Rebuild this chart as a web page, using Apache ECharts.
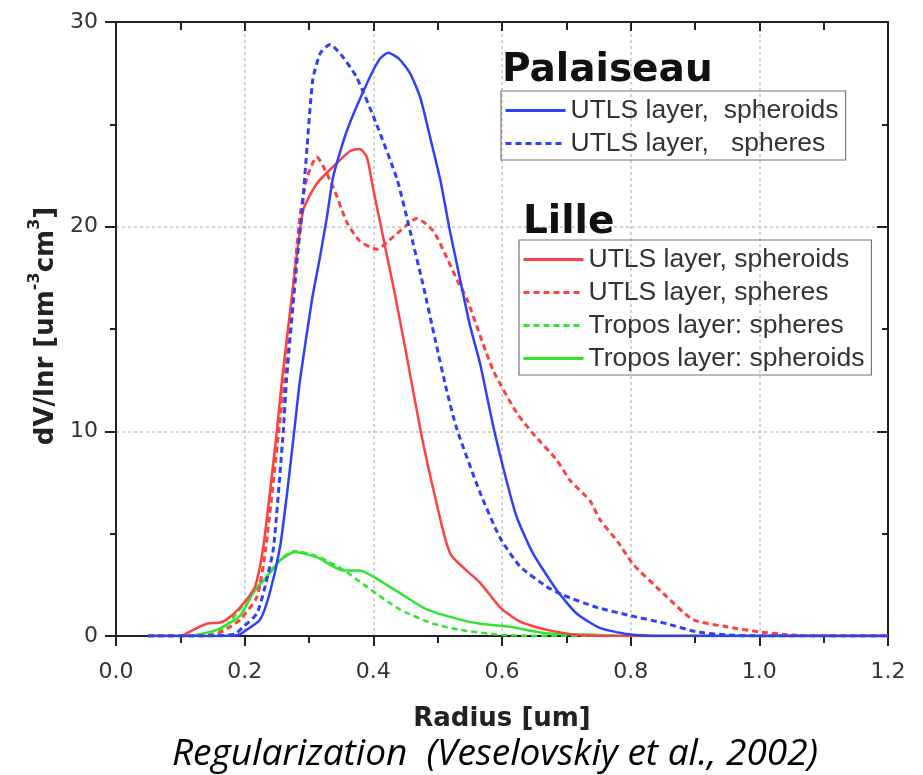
<!DOCTYPE html>
<html>
<head>
<meta charset="utf-8">
<script src="https://cdn.jsdelivr.net/npm/echarts@6/dist/echarts.min.js"></script>
<style>
html,body{margin:0;padding:0;background:#fff;}
#chart{width:923px;height:775px;}
</style>
</head>
<body>
<div id="chart"></div>
<script>
// ---- data (radius in um, dV/dlnr) ----
const palSpheroidsR = [0.05,0.15,0.19,0.203,0.224,0.239,0.255,0.266,0.277,0.286,0.305,0.317,0.328,0.338,0.359,0.39,0.41,0.423,0.44,0.457,0.473,0.488,0.504,0.519,0.535,0.55,0.566,0.586,0.607,0.623,0.648,0.685,0.716,0.752,0.794,0.85,1.2];
const palSpheroidsV = [0,0,0.05,0.3,0.8,2.1,4.35,7.0,10.0,12.5,16.5,18.5,20.5,22.5,24.7,27.0,28.2,28.5,28.2,27.5,26.3,24.4,22.3,19.8,17.4,15.2,13.3,10.3,7.6,5.8,4.05,2.25,1.1,0.4,0.1,0,0];

const palSpheresR = [0.05,0.15,0.185,0.198,0.219,0.234,0.245,0.26,0.265,0.281,0.289,0.297,0.306,0.318,0.333,0.35,0.374,0.405,0.437,0.457,0.477,0.496,0.514,0.53,0.566,0.597,0.628,0.67,0.695,0.747,0.799,0.856,0.903,0.95,1.0,1.2];
const palSpheresV = [0,0,0.1,0.45,1.1,2.7,4.35,10.0,12.5,18.2,20.7,23.9,27.2,28.5,28.9,28.4,27.3,25.0,22.3,19.8,17.2,14.5,12.0,10.1,7.0,4.8,3.4,2.4,2.0,1.4,1.0,0.6,0.2,0.05,0,0];

const lilleSpheroidsR = [0.05,0.1,0.12,0.141,0.16,0.172,0.193,0.216,0.229,0.25,0.258,0.275,0.291,0.312,0.343,0.364,0.379,0.39,0.4,0.41,0.423,0.431,0.45,0.473,0.496,0.52,0.566,0.597,0.628,0.67,0.72,0.8,1.2];
const lilleSpheroidsV = [0,0,0.3,0.6,0.65,0.8,1.4,2.4,4.35,10.0,12.5,17.0,20.8,22.1,23.1,23.7,23.8,23.4,21.8,20.3,18.3,17.1,14.0,10.1,6.8,4.0,2.6,1.4,0.7,0.3,0.05,0,0];

const lilleSpheresR = [0.05,0.13,0.157,0.18,0.193,0.219,0.233,0.253,0.262,0.286,0.297,0.312,0.338,0.359,0.379,0.405,0.431,0.468,0.493,0.514,0.53,0.545,0.586,0.623,0.648,0.685,0.706,0.737,0.752,0.78,0.804,0.85,0.897,0.95,1.0,1.05,1.1,1.2];
const lilleSpheresV = [0,0,0.1,0.5,0.8,1.9,4.35,10.0,12.5,20.5,22.4,23.4,21.9,20.2,19.3,18.9,19.5,20.4,19.8,18.5,17.4,16.5,13.0,10.9,9.9,8.6,7.6,6.6,5.7,4.6,3.5,2.1,0.8,0.45,0.2,0.05,0,0];

const troposSpheroidsR = [0.05,0.11,0.157,0.193,0.213,0.229,0.255,0.278,0.312,0.353,0.379,0.4,0.441,0.483,0.535,0.566,0.612,0.664,0.75,0.8,1.2];
const troposSpheroidsV = [0,0,0.3,1.0,2.1,2.7,3.7,4.1,3.85,3.2,3.2,2.9,2.1,1.3,0.8,0.6,0.45,0.15,0.05,0,0];

const troposSpheresR = [0.05,0.12,0.16,0.182,0.2,0.213,0.235,0.258,0.278,0.312,0.35,0.39,0.441,0.493,0.535,0.6,0.7,1.2];
const troposSpheresV = [0,0,0.2,0.9,1.6,2.2,2.9,3.8,4.15,3.9,3.3,2.4,1.3,0.6,0.3,0.05,0,0];

const xTicks = [0, 1.2, 0.2];   // min, max, interval
const yTicks = [0, 30, 10];

const palNames = ['UTLS layer,  spheroids', 'UTLS layer,   spheres'];
const lilleNames = ['UTLS layer, spheroids', 'UTLS layer, spheres', 'Tropos layer: spheres', 'Tropos layer: spheroids'];

// ---- chart ----
const zip = (r, v) => r.map((x, i) => [x, v[i]]);
const BLUE = '#2f3ffc', RED = '#ff4040', GREEN = '#2fe62f';

function mk(name, r, v, color, dashed, w) {
  return {
    name, type: 'line', data: zip(r, v), showSymbol: false, symbol: 'none',
    smooth: 0.2, animation: false,
    lineStyle: { color, width: w, type: dashed ? [6, 4] : 'solid' },
    itemStyle: { color, opacity: 0 }, z: 3
  };
}

const chart = echarts.init(document.getElementById('chart'), null, { renderer: 'canvas' });

const axisCommon = {
  type: 'value',
  axisLine: { show: true, onZero: false, lineStyle: { color: '#222', width: 2 } },
};

const legendCommon = {
  orient: 'vertical', itemWidth: 60, itemHeight: 26, itemGap: 6, padding: [6, 7, 3, 3],
  borderColor: '#777', borderWidth: 1.2, borderRadius: 0,
  textStyle: { fontFamily: 'Liberation Sans', fontSize: 26.5, color: '#333', lineHeight: 26 },
  itemStyle: { opacity: 0 },
  lineStyle: { width: 3 },
  selectedMode: false
};

const option = {
  backgroundColor: '#fff',
  animation: false,
  grid: { left: 116, right: 35, top: 22, bottom: 139, containLabel: false },
  xAxis: [
    Object.assign({}, axisCommon, {
      position: 'bottom', min: xTicks[0], max: xTicks[1], interval: xTicks[2],
      axisTick: { show: true, inside: false, length: 10, lineStyle: { color: '#222', width: 2 } },
      minorTick: { show: true, splitNumber: 2, length: 7, lineStyle: { color: '#222', width: 2 } },
      axisLabel: { show: true, margin: 25, color: '#333', fontSize: 22, fontFamily: 'DejaVu Sans',
        formatter: v => v.toFixed(1) },
      splitLine: { show: true, lineStyle: { color: '#c4c4c4', width: 1.5, type: [3, 3] } },
      name: 'Radius [um]', nameLocation: 'middle', nameGap: 70,
      nameTextStyle: { fontFamily: 'DejaVu Sans', fontWeight: 'bold', fontSize: 26, color: '#222' }
    }),
    Object.assign({}, axisCommon, {
      position: 'top', min: xTicks[0], max: xTicks[1], interval: xTicks[2],
      axisTick: { show: true, inside: true, length: 9, lineStyle: { color: '#222', width: 2 } },
      minorTick: { show: true, splitNumber: 2, length: 8, lineStyle: { color: '#222', width: 2 } },
      axisLabel: { show: false }, splitLine: { show: false }
    })
  ],
  yAxis: [
    Object.assign({}, axisCommon, {
      position: 'left', min: yTicks[0], max: yTicks[1], interval: yTicks[2],
      axisTick: { show: true, inside: false, length: 11, lineStyle: { color: '#222', width: 2 } },
      minorTick: { show: true, splitNumber: 2, length: 6, lineStyle: { color: '#222', width: 2 } },
      axisLabel: { show: true, margin: 18, color: '#333', fontSize: 22, fontFamily: 'DejaVu Sans' },
      splitLine: { show: true, lineStyle: { color: '#c4c4c4', width: 1.5, type: [3, 3] } }
    }),
    Object.assign({}, axisCommon, {
      position: 'right', min: yTicks[0], max: yTicks[1], interval: yTicks[2],
      axisTick: { show: true, inside: true, length: 11, lineStyle: { color: '#222', width: 2 } },
      minorTick: { show: true, splitNumber: 2, length: 6, lineStyle: { color: '#222', width: 2 } },
      axisLabel: { show: false }, splitLine: { show: false }
    })
  ],
  legend: [
    Object.assign({}, legendCommon, { data: palNames, left: 501, top: 91 }),
    Object.assign({}, legendCommon, { data: lilleNames, left: 519, top: 240 })
  ],
  graphic: [
    { type: 'text', left: 502, top: 51, z: 10,
      style: { text: 'Palaiseau', fill: '#111', font: 'bold 39px "DejaVu Sans"' } },
    { type: 'text', left: 523, top: 203, z: 10,
      style: { text: 'Lille', fill: '#111', font: 'bold 39px "DejaVu Sans"' } },
    { type: 'text', x: 43, y: 326, rotation: Math.PI / 2, z: 10,
      style: {
        text: '{a|dV/lnr [um}{s|-3}{a|cm}{s|3}{a|]}',
        fill: '#222', align: 'center', verticalAlign: 'middle',
        rich: {
          a: { fontFamily: 'DejaVu Sans', fontWeight: 'bold', fontSize: 26, fill: '#222', lineHeight: 32, verticalAlign: 'bottom' },
          s: { fontFamily: 'DejaVu Sans', fontWeight: 'bold', fontSize: 16, fill: '#222', lineHeight: 32, verticalAlign: 'top' }
        }
      } },
    { type: 'text', x: 495, y: 754, z: 10,
      style: { text: 'Regularization  (Veselovskiy et al., 2002)', fill: '#000',
        font: 'italic 37px "Open Sans"', align: 'center', verticalAlign: 'middle' } }
  ],
  series: [
    mk(lilleNames[3], troposSpheroidsR, troposSpheroidsV, GREEN, false, 2.5),
    mk(lilleNames[2], troposSpheresR, troposSpheresV, GREEN, true, 2.5),
    mk(lilleNames[1], lilleSpheresR, lilleSpheresV, RED, true, 3),
    mk(lilleNames[0], lilleSpheroidsR, lilleSpheroidsV, RED, false, 2.5),
    mk(palNames[1], palSpheresR, palSpheresV, BLUE, true, 3),
    mk(palNames[0], palSpheroidsR, palSpheroidsV, BLUE, false, 2.5)
  ]
};
chart.setOption(option);
</script>
</body>
</html>
